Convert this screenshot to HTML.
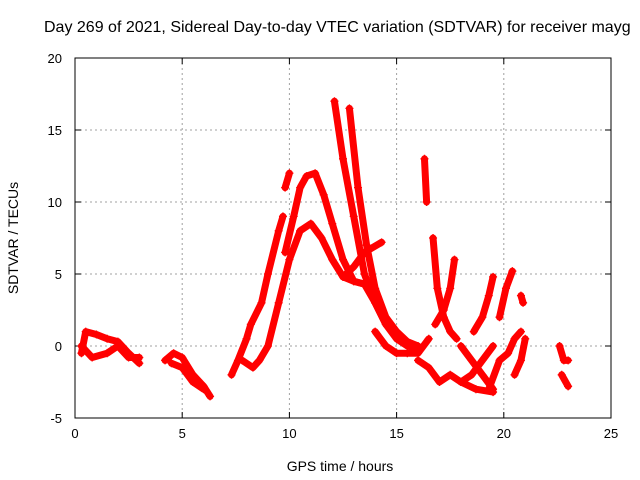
<!DOCTYPE html>
<html><head><meta charset="utf-8"><style>
body{margin:0;background:#fff}
svg{display:block;font-family:"Liberation Sans",sans-serif}
</style></head><body>
<svg id="chart" width="640" height="480">
<text x="44" y="32" font-size="16">Day 269 of 2021, Sidereal Day-to-day VTEC variation (SDTVAR) for receiver mayg</text>
<g id="grid"></g>
<g id="axes"></g>
<g id="series"></g>
<text x="18" y="238" font-size="14" text-anchor="middle" transform="rotate(-90 18 238)">SDTVAR / TECUs</text>
<text x="340" y="471" font-size="14" text-anchor="middle">GPS time / hours</text>
</svg>
<script>
const xTicks=[0,5,10,15,20,25];
const yTicks=[-5,0,5,10,15,20];
const track1=[[0.3,-0.5],[0.5,1],[1,0.8],[1.5,0.5],[2,0.3],[2.5,-0.5],[3,-1.2]];
const track2=[[0.3,0],[0.8,-0.8],[1.5,-0.5],[2,0],[2.5,-0.8],[3,-0.8]];
const track3=[[4.2,-1],[4.6,-0.5],[5,-0.8],[5.5,-2],[6,-2.8],[6.3,-3.5]];
const track4=[[4.5,-1.2],[5,-1.5],[5.5,-2.5],[6,-3]];
const track5=[[7.3,-2],[7.6,-1],[8,0.5],[8.2,1.5],[8.7,3],[9,5],[9.5,8],[9.7,9]];
const track6=[[7.8,-1],[8.3,-1.5],[8.6,-1],[9,0],[9.5,3],[10,6],[10.5,8],[11,8.5],[11.5,7.5],[12,6],[12.5,4.8],[13,4.5],[13.5,4.3],[14,3],[14.5,1.5],[15,0.5],[15.5,0],[16,-0.2]];
const track7=[[9.8,6.5],[10.2,9],[10.5,11],[10.8,11.8],[11.2,12],[11.6,10.5],[12,8.5],[12.5,6],[13,4.5],[13.5,4.3],[14,3.5]];
const track8=[[9.8,11],[10,12]];
const track9=[[12.1,17],[12.5,13],[13,9],[13.5,5],[14,3],[14.5,1.5]];
const track10=[[12.8,16.5],[13.2,11],[13.6,7],[14,4],[14.5,2],[15,1],[15.5,0.3],[16,0]];
const track11=[[12.5,4.8],[13,5.5],[13.5,6.5],[14.3,7.2]];
const track12=[[14,1],[14.5,0],[15,-0.5],[15.5,-0.5],[16,-0.5],[16.5,0.5]];
const track13=[[16.3,13],[16.4,10]];
const track14=[[16.7,7.5],[16.9,4],[17.2,2],[17.5,1],[17.8,0.5]];
const track15=[[16.8,1.5],[17.2,2.5],[17.5,4],[17.7,6]];
const track16=[[16,-1],[16.5,-1.5],[17,-2.5],[17.5,-2],[18,-2.5],[18.7,-3],[19.5,-3.2]];
const track17=[[18,0],[18.5,-1],[19,-2],[19.5,-3]];
const track18=[[18,-2.5],[18.5,-2],[19,-1],[19.5,0]];
const track19=[[18.6,1],[19,2],[19.3,3.5],[19.5,4.8]];
const track20=[[19.3,-3],[19.8,-1],[20.2,-0.5],[20.5,0.5],[20.8,1]];
const track21=[[19.8,2],[20.1,4],[20.4,5.2]];
const track22=[[20.5,-2],[20.8,-1],[21,0.5]];
const track23=[[20.8,3.5],[20.9,3]];
const track24=[[22.6,0],[22.8,-1],[23,-1]];
const track25=[[22.7,-2],[23,-2.8]];
const tracks=[track1,track2,track3,track4,track5,track6,track7,track8,track9,track10,track11,track12,track13,track14,track15,track16,track17,track18,track19,track20,track21,track22,track23,track24,track25];
const X0=75,X1=611,Y0=418,Y1=58;
const sx=t=>X0+(t-0)/25*(X1-X0);
const sy=v=>Y0-(v+5)/25*(Y0-Y1);
const NS="http://www.w3.org/2000/svg";
function mk(tag,attrs,parent){const e=document.createElementNS(NS,tag);for(const k in attrs)e.setAttribute(k,attrs[k]);parent.appendChild(e);return e;}
const grid=document.getElementById('grid'),axes=document.getElementById('axes'),ser=document.getElementById('series');
xTicks.forEach(t=>{
 if(t>0&&t<25){const l=mk('line',{x1:sx(t),x2:sx(t),y1:Y1,y2:Y0,stroke:'#a0a0a0','stroke-dasharray':'2,3'},grid);
 
 }
 const tk=mk('text',{x:sx(t),y:Y0+20,'font-size':13,'text-anchor':'middle'},axes);tk.textContent=t;
 
 
 mk('line',{x1:sx(t),x2:sx(t),y1:Y0,y2:Y0-6,stroke:'#000'},axes);
 mk('line',{x1:sx(t),x2:sx(t),y1:Y1,y2:Y1+6,stroke:'#000'},axes);
});
yTicks.forEach(v=>{
 if(v>-5&&v<20){const l=mk('line',{x1:X0,x2:X1,y1:sy(v),y2:sy(v),stroke:'#a0a0a0','stroke-dasharray':'2,3'},grid);
 
 }
 const tk=mk('text',{x:X0-13,y:sy(v)+5,'font-size':13,'text-anchor':'end'},axes);tk.textContent=v;
 
 
 mk('line',{x1:X0,x2:X0+6,y1:sy(v),y2:sy(v),stroke:'#000'},axes);
 mk('line',{x1:X1,x2:X1-6,y1:sy(v),y2:sy(v),stroke:'#000'},axes);
});
mk('rect',{x:X0,y:Y1,width:X1-X0,height:Y0-Y1,fill:'none',stroke:'#000'},axes);
tracks.forEach(tr=>{
 const pl=mk('polyline',{points:tr.map(p=>sx(p[0])+','+sy(p[1])).join(' '),fill:'none',stroke:'#f00','stroke-width':7,'stroke-linejoin':'round','stroke-linecap':'round'},ser);
 
 
 tr.forEach(p=>{
  const x=sx(p[0]),y=sy(p[1]);
  const m=mk('path',{d:`M${x-4},${y}H${x+4}M${x},${y-4}V${y+4}`,stroke:'#f00','stroke-width':1.3},ser);
  
  
 });
});
</script>
</body></html>
